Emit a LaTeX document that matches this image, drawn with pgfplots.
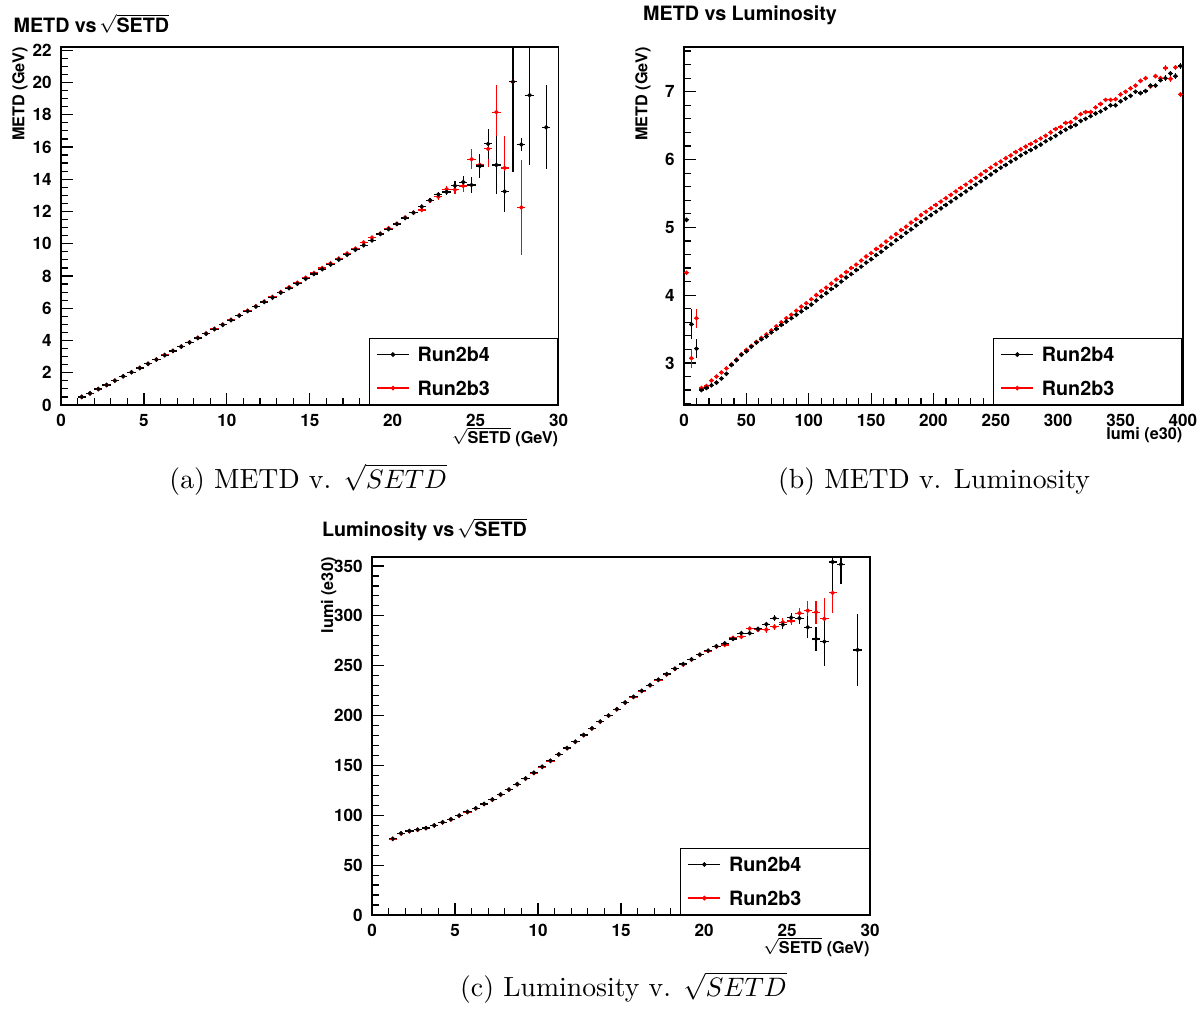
\documentclass[border=0pt]{standalone}
\usepackage{pgfplots}
\pgfplotsset{compat=1.18}
\usepackage{pgfplotstable}
\usepackage{fontspec}
\newfontfamily\rootfont{TeX Gyre Heros}

\pgfplotstableread{
x y ey
1.25 0.50 0.01
1.75 0.72 0.01
2.25 0.99 0.01
2.75 1.24 0.01
3.25 1.51 0.01
3.75 1.78 0.01
4.25 2.03 0.01
4.75 2.29 0.01
5.25 2.55 0.01
5.75 2.81 0.01
6.25 3.09 0.01
6.75 3.35 0.01
7.25 3.62 0.01
7.75 3.88 0.01
8.25 4.15 0.01
8.75 4.42 0.01
9.25 4.70 0.01
9.75 4.97 0.02
10.25 5.26 0.02
10.75 5.54 0.02
11.25 5.82 0.02
11.75 6.10 0.02
12.25 6.39 0.02
12.75 6.66 0.02
13.25 6.96 0.02
13.75 7.24 0.02
14.25 7.52 0.03
14.75 7.82 0.03
15.25 8.12 0.03
15.75 8.42 0.03
16.25 8.71 0.04
16.75 9.01 0.04
17.25 9.31 0.04
17.75 9.62 0.05
18.25 9.90 0.05
18.75 10.20 0.06
19.25 10.60 0.06
19.75 10.90 0.07
20.25 11.22 0.08
20.75 11.59 0.09
21.25 11.92 0.10
21.75 12.30 0.12
22.25 12.70 0.14
22.75 13.06 0.17
23.25 13.21 0.21
23.75 13.60 0.28
24.25 13.82 0.38
24.75 13.64 0.50
25.25 14.82 0.73
25.75 16.19 0.95
26.25 14.88 1.80
26.75 13.24 1.30
27.25 20.04 5.60
27.75 16.15 0.38
28.25 19.21 4.30
29.25 17.22 2.60
}\tAblack

\pgfplotstableread{
x y ey
1.25 0.50 0.01
1.75 0.72 0.01
2.25 0.99 0.01
2.75 1.24 0.01
3.25 1.51 0.01
3.75 1.78 0.01
4.25 2.03 0.01
4.75 2.30 0.01
5.25 2.56 0.01
5.75 2.82 0.01
6.25 3.10 0.01
6.75 3.36 0.01
7.25 3.63 0.01
7.75 3.89 0.01
8.25 4.17 0.01
8.75 4.44 0.01
9.25 4.72 0.01
9.75 4.99 0.02
10.25 5.28 0.02
10.75 5.56 0.02
11.25 5.85 0.02
11.75 6.13 0.02
12.25 6.41 0.02
12.75 6.70 0.02
13.25 7.00 0.02
13.75 7.30 0.02
14.25 7.58 0.03
14.75 7.89 0.03
15.25 8.18 0.03
15.75 8.49 0.03
16.25 8.78 0.04
16.75 9.08 0.04
17.25 9.39 0.04
17.75 9.70 0.05
18.25 10.08 0.05
18.75 10.38 0.06
19.25 10.63 0.06
19.75 10.96 0.07
20.25 11.24 0.08
20.75 11.63 0.09
21.25 11.93 0.10
21.75 12.09 0.12
22.25 12.68 0.14
22.75 12.91 0.17
23.25 13.38 0.21
23.75 13.35 0.28
24.25 13.58 0.35
24.75 15.24 0.62
25.25 14.89 0.58
25.75 15.88 1.15
26.25 18.16 1.70
26.75 14.70 2.00
27.25 20.04 1.10
27.75 12.25 2.95
}\tAred

\pgfplotstableread{
x y ey
2 5.11 0.03
6 3.57 0.22
10 3.21 0.14
14 2.60 0.02
18 2.63 0.02
22 2.67 0.02
26 2.71 0.02
30 2.77 0.02
34 2.84 0.02
38 2.97 0.02
42 3.04 0.02
46 3.12 0.02
50 3.17 0.02
54 3.24 0.02
58 3.30 0.02
62 3.35 0.02
66 3.39 0.02
70 3.45 0.02
74 3.50 0.02
78 3.56 0.02
82 3.61 0.02
86 3.66 0.02
90 3.71 0.02
94 3.76 0.02
98 3.81 0.02
102 3.86 0.02
106 3.92 0.02
110 3.98 0.02
114 4.03 0.02
118 4.09 0.02
122 4.14 0.02
126 4.20 0.02
130 4.26 0.02
134 4.31 0.02
138 4.37 0.02
142 4.42 0.02
146 4.48 0.02
150 4.53 0.02
154 4.59 0.02
158 4.64 0.02
162 4.70 0.02
166 4.75 0.02
170 4.81 0.02
174 4.86 0.02
178 4.92 0.02
182 4.97 0.02
186 5.03 0.02
190 5.08 0.02
194 5.13 0.02
198 5.18 0.02
202 5.23 0.02
206 5.28 0.02
210 5.33 0.02
214 5.38 0.02
218 5.43 0.02
222 5.48 0.02
226 5.53 0.02
230 5.58 0.02
234 5.63 0.02
238 5.68 0.02
242 5.73 0.02
246 5.78 0.02
250 5.83 0.02
254 5.88 0.02
258 5.92 0.02
262 5.97 0.02
266 6.01 0.02
270 6.06 0.02
274 6.10 0.02
278 6.14 0.02
282 6.18 0.02
286 6.22 0.02
290 6.27 0.02
294 6.31 0.02
298 6.35 0.02
302 6.40 0.02
306 6.44 0.02
310 6.48 0.02
314 6.51 0.02
318 6.57 0.02
322 6.60 0.02
326 6.64 0.02
330 6.68 0.02
334 6.71 0.02
338 6.75 0.02
342 6.80 0.02
346 6.80 0.02
350 6.86 0.02
354 6.90 0.02
358 6.94 0.02
362 7.00 0.03
366 6.98 0.03
370 7.01 0.03
374 7.09 0.03
378 7.09 0.03
382 7.17 0.03
386 7.20 0.04
390 7.27 0.04
394 7.23 0.04
398 7.38 0.04
}\tBblack

\pgfplotstableread{
x y ey
2 4.33 0.03
6 3.07 0.14
10 3.66 0.14
14 2.63 0.02
18 2.66 0.02
22 2.74 0.02
26 2.80 0.02
30 2.86 0.02
34 2.92 0.02
38 2.98 0.02
42 3.05 0.02
46 3.13 0.02
50 3.19 0.02
54 3.25 0.02
58 3.31 0.02
62 3.37 0.02
66 3.42 0.02
70 3.48 0.02
74 3.54 0.02
78 3.60 0.02
82 3.66 0.02
86 3.71 0.02
90 3.77 0.02
94 3.83 0.02
98 3.88 0.02
102 3.94 0.02
106 4.00 0.02
110 4.06 0.02
114 4.11 0.02
118 4.17 0.02
122 4.23 0.02
126 4.28 0.02
130 4.34 0.02
134 4.40 0.02
138 4.45 0.02
142 4.51 0.02
146 4.57 0.02
150 4.62 0.02
154 4.68 0.02
158 4.73 0.02
162 4.79 0.02
166 4.85 0.02
170 4.90 0.02
174 4.96 0.02
178 5.01 0.02
182 5.07 0.02
186 5.12 0.02
190 5.18 0.02
194 5.23 0.02
198 5.28 0.02
202 5.33 0.02
206 5.38 0.02
210 5.43 0.02
214 5.48 0.02
218 5.53 0.02
222 5.58 0.02
226 5.63 0.02
230 5.68 0.02
234 5.73 0.02
238 5.78 0.02
242 5.83 0.02
246 5.88 0.02
250 5.93 0.02
254 5.97 0.02
258 6.02 0.02
262 6.06 0.02
266 6.11 0.02
270 6.15 0.02
274 6.19 0.02
278 6.23 0.02
282 6.27 0.02
286 6.31 0.02
290 6.35 0.02
294 6.40 0.02
298 6.45 0.02
302 6.48 0.02
306 6.54 0.02
310 6.55 0.02
314 6.61 0.02
318 6.67 0.02
322 6.70 0.02
326 6.70 0.02
330 6.77 0.02
334 6.82 0.02
338 6.88 0.02
342 6.88 0.02
346 6.89 0.02
350 6.96 0.02
354 7.00 0.02
358 7.05 0.02
362 7.09 0.03
366 7.16 0.03
370 7.20 0.03
374 7.08 0.03
378 7.23 0.03
382 7.20 0.03
386 7.35 0.04
390 7.19 0.04
394 7.36 0.04
398 6.96 0.04
}\tBred

\pgfplotstableread{
x y ey
1.25 76.5 0.8
1.75 81.9 0.6
2.25 84.2 0.6
2.75 85.6 0.6
3.25 87.2 0.6
3.75 89.9 0.6
4.25 93.0 0.6
4.75 96.0 0.6
5.25 99.7 0.6
5.75 103.4 0.6
6.25 107.0 0.6
6.75 111.4 0.6
7.25 115.8 0.6
7.75 120.8 0.6
8.25 125.8 0.6
8.75 131.2 0.6
9.25 136.9 0.7
9.75 142.6 0.7
10.25 148.7 0.7
10.75 154.7 0.7
11.25 161.1 0.7
11.75 167.4 0.7
12.25 173.8 0.7
12.75 180.5 0.8
13.25 187.2 0.8
13.75 194.0 0.8
14.25 200.0 0.8
14.75 206.4 0.8
15.25 213.1 0.8
15.75 218.8 0.8
16.25 224.8 0.9
16.75 230.5 0.9
17.25 235.9 0.9
17.75 241.6 1.0
18.25 247.0 1.0
18.75 251.7 1.0
19.25 256.4 1.1
19.75 261.1 1.1
20.25 265.1 1.2
20.75 269.5 1.3
21.25 272.5 1.4
21.75 276.8 1.5
22.25 282.6 1.7
22.75 282.6 2.0
23.25 286.9 2.2
23.75 291.6 2.6
24.25 297.6 3.0
24.75 291.2 4.0
25.25 298.2 5.0
25.75 297.6 6.0
26.25 288.5 11.0
26.75 276.8 12.0
27.25 274.1 24.0
27.75 354.0 32.0
28.25 351.7 20.0
29.25 265.8 36.5
}\tCblack

\pgfplotstableread{
x y ey
1.25 76.3 0.8
1.75 81.7 0.6
2.25 84.0 0.6
2.75 85.4 0.6
3.25 87.0 0.6
3.75 89.7 0.6
4.25 92.8 0.6
4.75 95.8 0.6
5.25 99.5 0.6
5.75 103.2 0.6
6.25 106.8 0.6
6.75 111.2 0.6
7.25 115.6 0.6
7.75 120.6 0.6
8.25 125.6 0.6
8.75 131.0 0.6
9.25 136.7 0.7
9.75 142.4 0.7
10.25 148.5 0.7
10.75 154.5 0.7
11.25 160.9 0.7
11.75 167.2 0.7
12.25 173.6 0.7
12.75 180.3 0.8
13.25 187.0 0.8
13.75 193.8 0.8
14.25 199.8 0.8
14.75 206.2 0.8
15.25 212.9 0.8
15.75 218.6 0.8
16.25 224.6 0.9
16.75 230.3 0.9
17.25 235.7 0.9
17.75 241.2 1.0
18.25 246.8 1.0
18.75 251.0 1.0
19.25 256.0 1.1
19.75 260.9 1.1
20.25 264.8 1.2
20.75 269.0 1.3
21.25 270.8 1.4
21.75 277.9 1.5
22.25 278.9 1.7
22.75 287.2 2.0
23.25 285.9 2.2
23.75 286.2 3.0
24.25 288.9 3.0
24.75 293.6 4.0
25.25 294.9 4.0
25.75 302.7 5.0
26.25 305.2 10.0
26.75 303.6 11.5
27.25 297.0 21.0
27.75 323.0 20.0
}\tCred

\pgfplotsset{
  rootaxis/.style={
    scale only axis,
    axis line style={line width=0.55pt},
    tick pos=left,
    tick align=inside,
    major tick length=4.6pt,
    minor tick length=2.6pt,
    tick style={black, line width=0.45pt},
    tick label style={font=\rootfont\bfseries\fontsize{6.4}{7}\selectfont},
    /pgf/number format/assume math mode=true,
    every axis y label/.style={at={([xshift=-15.4pt]rel axis cs:0,1)}, rotate=90, anchor=east, inner sep=0pt, font=\rootfont\bfseries\fontsize{6.1}{7}\selectfont},
    every axis x label/.style={at={([yshift=-8.3pt]rel axis cs:1,0)}, anchor=north east, inner sep=0pt, font=\rootfont\bfseries\fontsize{6.1}{7}\selectfont},
    legend image code/.code={\draw[mark repeat=2,mark phase=2,#1] plot coordinates {(0pt,0pt) (6pt,0pt) (12pt,0pt)};},
    legend style={at={(1,0)}, anchor=south east, draw=black, line width=0.55pt, fill=white,
      inner xsep=2.6pt, inner ysep=3.4pt, row sep=7.3pt, column sep=3pt,
      font=\rootfont\bfseries\fontsize{7.4}{8}\selectfont,
      nodes={inner sep=0pt, text width=50pt, text height=5.3pt, text depth=0pt}},
  },
  rootpts/.style={only marks, mark=*, mark size=0.6pt, line width=0.45pt,
    error bars/.cd, x dir=both, x fixed=#1, y dir=both, y explicit, error mark=none,
    error bar style={line width=0.45pt, solid}},
}

\begin{document}
\begin{tikzpicture}
\useasboundingbox (0pt,0pt) rectangle (451.125pt,378.375pt);

% ---------- (a)
\begin{axis}[rootaxis,
  at={(22.875pt,226.5pt)}, anchor=south west,
  width=186.6pt, height=134.25pt,
  xmin=0, xmax=30, ymin=0, ymax=22.2,
  xtick={0,5,...,30}, minor x tick num=4,
  ytick={0,2,...,22}, minor y tick num=3,
  xlabel={$\sqrt{\mbox{SETD}}$ (GeV)}, ylabel={METD (GeV)},
]
\addplot[red, forget plot, rootpts=0.25] table[x index=0, y index=1, y error index=2] {\tAred};
\addplot[black, forget plot, rootpts=0.25] table[x index=0, y index=1, y error index=2] {\tAblack};
\addlegendimage{black, line width=0.5pt, mark=*, mark size=0.6pt}
\addlegendentry{Run2b4}
\addlegendimage{red, line width=0.5pt, mark=*, mark size=0.6pt}
\addlegendentry{Run2b3}
\end{axis}

% ---------- (b)
\begin{axis}[rootaxis,
  at={(256.5pt,226.5pt)}, anchor=south west,
  width=187.1pt, height=134.25pt,
  xmin=0, xmax=400, ymin=2.38, ymax=7.66,
  xtick={0,50,...,400}, minor x tick num=4,
  ytick={3,4,5,6,7}, minor ytick={2.4,2.6,2.8,3.2,3.4,3.6,3.8,4.2,4.4,4.6,4.8,5.2,5.4,5.6,5.8,6.2,6.4,6.6,6.8,7.2,7.4,7.6},
  xlabel={lumi (e30)}, ylabel={METD (GeV)},
]
\addplot[red, forget plot, rootpts=2] table[x index=0, y index=1, y error index=2] {\tBred};
\addplot[black, forget plot, rootpts=2] table[x index=0, y index=1, y error index=2] {\tBblack};
\addlegendimage{black, line width=0.5pt, mark=*, mark size=0.6pt}
\addlegendentry{Run2b4}
\addlegendimage{red, line width=0.5pt, mark=*, mark size=0.6pt}
\addlegendentry{Run2b3}
\end{axis}

% ---------- (c)
\begin{axis}[rootaxis,
  at={(139.5pt,35.25pt)}, anchor=south west,
  width=186.75pt, height=134.25pt,
  xmin=0, xmax=30, ymin=0, ymax=359,
  xtick={0,5,...,30}, minor x tick num=4,
  ytick={0,50,...,350}, minor y tick num=4,
  xlabel={$\sqrt{\mbox{SETD}}$ (GeV)}, ylabel={lumi (e30)},
  every axis y label/.append style={at={([xshift=-16.2pt]rel axis cs:0,1)}},
]
\addplot[red, forget plot, rootpts=0.25] table[x index=0, y index=1, y error index=2] {\tCred};
\addplot[black, forget plot, rootpts=0.25] table[x index=0, y index=1, y error index=2] {\tCblack};
\addlegendimage{black, line width=0.5pt, mark=*, mark size=0.6pt}
\addlegendentry{Run2b4}
\addlegendimage{red, line width=0.5pt, mark=*, mark size=0.6pt}
\addlegendentry{Run2b3}
\end{axis}

% ---------- titles
\node[anchor=base west, inner sep=0pt, font=\rootfont\bfseries\fontsize{7.4}{8}\selectfont]
  at (4.9pt,366.3pt) {METD vs\hspace{0.12em}$\sqrt{\mbox{SETD}}$};
\node[anchor=base west, inner sep=0pt, font=\rootfont\bfseries\fontsize{7.4}{8}\selectfont]
  at (241pt,370.6pt) {METD vs Luminosity};
\node[anchor=base west, inner sep=0pt, font=\rootfont\bfseries\fontsize{7.4}{8}\selectfont]
  at (120.6pt,177pt) {Luminosity vs\hspace{0.12em}$\sqrt{\mbox{SETD}}$};

% ---------- captions
\node[anchor=base, inner sep=0pt, font=\fontsize{10.4}{12}\selectfont]
  at (115.6pt,195.3pt) {(a) METD v. $\sqrt{SETD}$};
\node[anchor=base, inner sep=0pt, font=\fontsize{10.4}{12}\selectfont]
  at (350.25pt,195.3pt) {(b) METD v. Luminosity};
\node[anchor=base, inner sep=0pt, font=\fontsize{10.4}{12}\selectfont]
  at (233.8pt,4.5pt) {(c) Luminosity v. $\sqrt{SETD}$};
\end{tikzpicture}
\end{document}
